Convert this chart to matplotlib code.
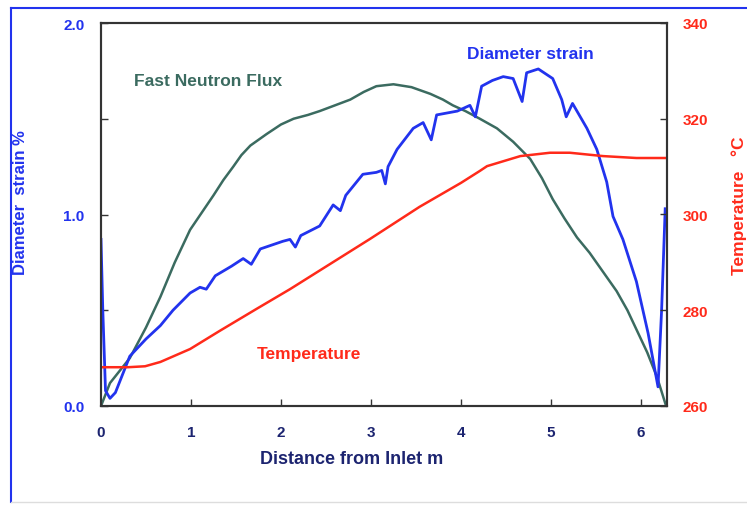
import matplotlib.pyplot as plt
from matplotlib.lines import Line2D

# 数据 - 直径应变 (左轴, %)
strain_x = [0.0, 0.02, 0.05, 0.1, 0.16, 0.32, 0.5, 0.66, 0.8, 0.99, 1.1, 1.17, 1.27,
            1.45, 1.58, 1.67, 1.77, 2.02, 2.1, 2.16, 2.22, 2.43, 2.58, 2.66, 2.72,
            2.91, 3.06, 3.12, 3.16, 3.19, 3.29, 3.47, 3.58, 3.67, 3.73, 3.96, 4.1,
            4.16, 4.23, 4.35, 4.47, 4.58, 4.68, 4.73, 4.86, 5.02, 5.12, 5.17, 5.24,
            5.4, 5.51, 5.62, 5.69, 5.8, 5.95, 6.08, 6.19, 6.23, 6.27]
strain_y = [0.87, 0.5, 0.08, 0.04, 0.07, 0.26, 0.35, 0.42, 0.5, 0.59, 0.62, 0.61, 0.68,
            0.73, 0.77, 0.74, 0.82, 0.86, 0.87, 0.83, 0.89, 0.94, 1.05, 1.02, 1.1,
            1.21, 1.22, 1.23, 1.16, 1.25, 1.34, 1.45, 1.48, 1.39, 1.52, 1.54, 1.57,
            1.51, 1.67, 1.70, 1.72, 1.71, 1.59, 1.74, 1.76, 1.71, 1.60, 1.51, 1.58,
            1.45, 1.34, 1.17, 0.99, 0.87, 0.65, 0.38, 0.10, 0.5, 1.03]

# 快中子通量 (按左轴比例)
flux_x = [0.0, 0.1, 0.32, 0.5, 0.66, 0.82, 0.99, 1.12, 1.25, 1.36, 1.47, 1.56, 1.66,
          1.75, 1.84, 2.0, 2.14, 2.3, 2.43, 2.6, 2.77, 2.92, 3.06, 3.25, 3.45, 3.66,
          3.8, 3.91, 4.05, 4.21, 4.4, 4.58, 4.77, 4.9, 5.02, 5.15, 5.29, 5.43,
          5.58, 5.73, 5.85, 5.95, 6.07, 6.18, 6.28]
flux_y = [0.0, 0.12, 0.25, 0.41, 0.57, 0.75, 0.92, 1.01, 1.10, 1.18, 1.25, 1.31, 1.36,
          1.39, 1.42, 1.47, 1.50, 1.52, 1.54, 1.57, 1.60, 1.64, 1.67, 1.68, 1.665,
          1.63, 1.60, 1.57, 1.54, 1.50, 1.45, 1.38, 1.29, 1.19, 1.08, 0.98, 0.88,
          0.80, 0.70, 0.60, 0.50, 0.40, 0.28, 0.15, 0.0]

# 温度 (右轴, °C)
temp_x = [0.0, 0.3, 0.49, 0.66, 0.99, 1.32, 1.73, 2.1, 2.99, 3.54, 4.0, 4.21, 4.29,
          4.66, 4.99, 5.21, 5.58, 5.95, 6.29]
temp_y = [268.1, 268.1, 268.3, 269.2, 271.9, 275.7, 280.3, 284.4, 294.9, 301.6,
          306.6, 309.1, 310.1, 312.2, 312.9, 312.9, 312.2, 311.8, 311.8]

blue = '#2233ee'
green = '#3b6b60'
red = '#ff2a1a'
navy = '#1c2470'

plt.rcParams['font.family'] = ['Liberation Sans', 'DejaVu Sans']

fig = plt.figure(figsize=(7.47, 5.06), dpi=100)
ax = fig.add_axes([101/747, 1-407/506, 566/747, 383/506])
ax2 = ax.twinx()

ax.plot(flux_x, flux_y, color=green, lw=1.8)
ax.plot(strain_x, strain_y, color=blue, lw=2.0)
ax2.plot(temp_x, temp_y, color=red, lw=1.8)

ax.set_xlim(0, 6.29)
ax.set_ylim(0, 2.0)
ax2.set_ylim(260, 340)

ax.set_xticks([0, 1, 2, 3, 4, 5, 6])
ax.set_yticks([0.0, 1.0, 2.0])
ax.set_yticks([0.5, 1.5], minor=True)
ax.set_yticklabels(['0.0', '1.0', '2.0'])
ax2.set_yticks([260, 280, 300, 320, 340])

for a in (ax, ax2):
    for s in a.spines.values():
        s.set_color('#333333')
        s.set_linewidth(1.5)
ax.tick_params(axis='both', which='both', direction='in', length=5, width=1,
               color='#333333')
ax.tick_params(axis='x', labelcolor=navy, labelsize=11, pad=14)
ax.tick_params(axis='y', labelcolor=blue, labelsize=11, pad=12)
ax2.tick_params(axis='y', direction='in', length=5, width=1, color='#333333',
                labelcolor=red, labelsize=11, pad=11)
for lab in ax.get_xticklabels() + ax.get_yticklabels() + ax2.get_yticklabels():
    lab.set_fontweight('bold')

ax.set_xlabel('Distance from Inlet m', color=navy, fontsize=13, fontweight='bold')
ax.xaxis.set_label_coords(0.442, -0.115)
ax.set_ylabel('Diameter  strain %', color=blue, fontsize=12, fontweight='bold')
ax.yaxis.set_label_coords(-0.129, 0.535)
ax2.set_ylabel('Temperature   °C', color=red, fontsize=12.5, fontweight='bold')
ax2.yaxis.set_label_coords(1.113, 0.525)

# 曲线标注
ax.text(0.37, 1.7, 'Fast Neutron Flux', color=green, fontsize=12.5, fontweight='bold',
        va='center', ha='left')
ax.text(4.07, 1.84, 'Diameter strain', color=blue, fontsize=12.5, fontweight='bold',
        va='center', ha='left')
ax.text(1.73, 0.275, 'Temperature', color=red, fontsize=12.5, fontweight='bold',
        va='center', ha='left')

# 外框
x0, y0 = 11/747, 1-9/506
fig.add_artist(Line2D([x0, x0], [0.005, y0], transform=fig.transFigure, color=blue, lw=1.5))
fig.add_artist(Line2D([x0, 1.0], [y0, y0], transform=fig.transFigure, color=blue, lw=1.5))
fig.add_artist(Line2D([x0, 1.0], [0.006, 0.006], transform=fig.transFigure,
                      color='#dddddd', lw=1))

fig.savefig('out.png', dpi=100)
